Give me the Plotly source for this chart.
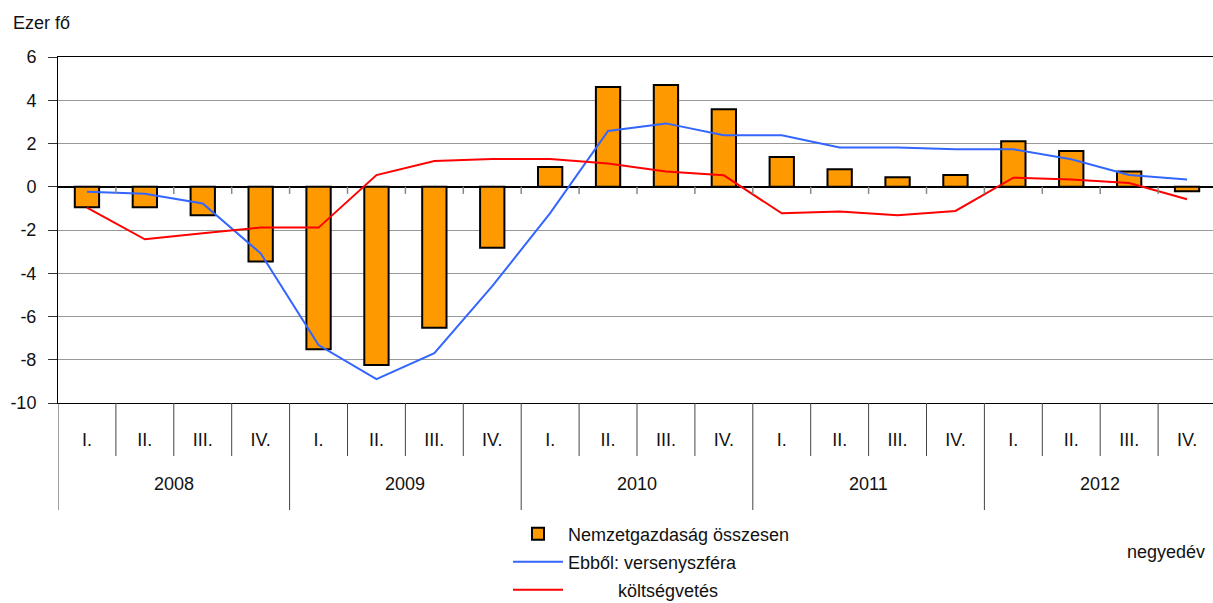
import plotly.graph_objects as go

years = ["2008", "2009", "2010", "2011", "2012"]
quarters = ["I.", "II.", "III.", "IV."]

total = [-0.95, -0.95, -1.32, -3.46,
         -7.52, -8.24, -6.52, -2.82,
         0.91, 4.61, 4.71, 3.58,
         1.38, 0.81, 0.44, 0.54,
         2.10, 1.65, 0.71, -0.21]
verseny = [-0.23, -0.32, -0.77, -3.08,
           -7.32, -8.90, -7.70, -4.60,
           -1.22, 2.58, 2.93, 2.38,
           2.38, 1.82, 1.82, 1.73,
           1.73, 1.27, 0.54, 0.34]
koltseg = [-0.97, -2.43, -2.15, -1.89,
           -1.89, 0.54, 1.19, 1.28,
           1.28, 1.08, 0.71, 0.53,
           -1.23, -1.14, -1.32, -1.12,
           0.42, 0.34, 0.17, -0.58]

ytick_vals = [-10, -8, -6, -4, -2, 0, 2, 4, 6]
ytick_text = ["-10", "-8", "-6", "-4", "-2", "0", "2", "4", "6"]

names = ["Nemzetgazdaság összesen", "Ebből: versenyszféra",
         "\u00a0" * 10 + "költségvetés"]

FONT = "Liberation Sans, Arial, sans-serif"
FS = 18
TXT = "#111111"

n = len(total)
x = list(range(n))
qlabels = [quarters[i % 4] for i in range(n)]

fig = go.Figure()
fig.add_trace(go.Bar(x=x, y=total, name=names[0], width=0.42, legend="legend",
                     marker=dict(color="#FF9900", line=dict(color="#000000", width=2))))
fig.add_trace(go.Scatter(x=x, y=verseny, name=names[1], mode="lines", legend="legend2",
                         line=dict(color="#3366FF", width=2)))
fig.add_trace(go.Scatter(x=x, y=koltseg, name=names[2], mode="lines", legend="legend3",
                         line=dict(color="#FF0000", width=2)))

W, H = 1213, 603
L, T, B = 58, 57, 200
plot_h = H - T - B
cat_w = 57.9
x_end = -0.5 + (W - L) / cat_w

shapes = []
# small ticks on the zero line at category boundaries
for k in range(n - 1):
    shapes.append(dict(type="line", xref="x", yref="y", x0=k + 0.5, x1=k + 0.5,
                       y0=0, y1=-0.33, line=dict(color="#888888", width=1.5)))
# separators below the axis
q_sep = -(456 - (H - B)) / plot_h
y_sep = -(510 - (H - B)) / plot_h
for k in range(n):
    xb = k - 0.5
    is_year = (k % 4 == 0)
    shapes.append(dict(type="line", xref="x", yref="paper", x0=xb, x1=xb,
                       y0=0, y1=y_sep if is_year else q_sep,
                       line=dict(color="#444444", width=1)))

annotations = []
for i, yr in enumerate(years):
    annotations.append(dict(text=yr, xref="x", yref="paper", x=i * 4 + 1.5,
                            y=-(484 - (H - B)) / plot_h, showarrow=False,
                            xanchor="center", yanchor="middle",
                            font=dict(family=FONT, size=FS, color=TXT)))
annotations.append(dict(text="Ezer fő", xref="paper", yref="paper",
                        x=(11 - L) / (W - L), y=((H - B) - 23.5) / plot_h,
                        xanchor="left", yanchor="middle", showarrow=False,
                        font=dict(family=FONT, size=FS, color=TXT)))
annotations.append(dict(text="negyedév", xref="paper", yref="paper",
                        x=(1207 - L) / (W - L), y=-(552 - (H - B)) / plot_h,
                        xanchor="right", yanchor="middle", showarrow=False,
                        font=dict(family=FONT, size=FS, color=TXT)))

def leg(ypix):
    return dict(xref="container", yref="container", x=508 / W, y=1 - ypix / H,
                xanchor="left", yanchor="middle", bgcolor="rgba(0,0,0,0)",
                font=dict(family=FONT, size=FS, color=TXT),
                itemwidth=50, tracegroupgap=0)

fig.update_layout(
    width=W, height=H,
    margin=dict(l=L, r=0, t=T, b=B, pad=0, autoexpand=False),
    paper_bgcolor="white", plot_bgcolor="white",
    font=dict(family=FONT, size=FS, color=TXT),
    showlegend=True,
    legend=leg(534), legend2=leg(562), legend3=leg(590),
    xaxis=dict(range=[-0.5, x_end], tickmode="array", tickvals=x, ticktext=qlabels,
               tickangle=0, automargin=False,
               showgrid=False, zeroline=False, showline=True, mirror=True,
               linecolor="#000000", linewidth=1, ticks="",
               ticklabelstandoff=20, tickfont=dict(family=FONT, size=FS, color=TXT)),
    yaxis=dict(range=[-10, 6], tickmode="array", tickvals=ytick_vals, ticktext=ytick_text,
               automargin=False,
               showgrid=True, gridcolor="#999999", gridwidth=1,
               zeroline=True, zerolinecolor="#000000", zerolinewidth=1.5,
               showline=True, mirror=True, linecolor="#000000", linewidth=1,
               ticks="outside", ticklen=9, tickcolor="#333333", tickwidth=1,
               ticklabelstandoff=8, tickfont=dict(family=FONT, size=FS, color=TXT)),
    shapes=shapes, annotations=annotations,
    bargap=0.5,
)

fig.write_html("out.html", config={"displayModeBar": False},
               post_script="document.body.style.margin='0';")
